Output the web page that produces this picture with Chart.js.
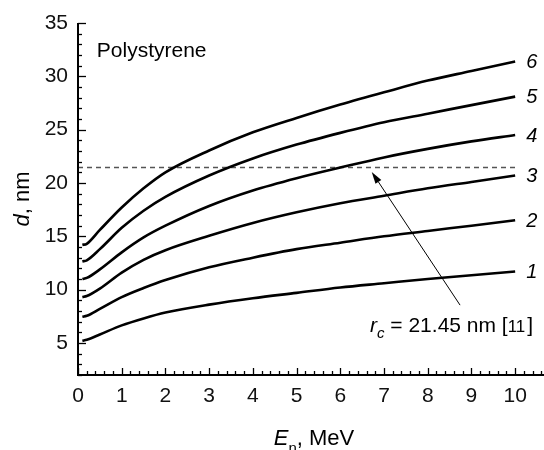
<!DOCTYPE html>
<html>
<head>
<meta charset="utf-8">
<script src="https://cdn.jsdelivr.net/npm/chart.js@4/dist/chart.umd.min.js"></script>
<style>
  html, body { margin: 0; padding: 0; background: #fff; }
  #wrap { width: 544px; height: 450px; }
</style>
</head>
<body>
<div id="wrap"><canvas id="chart"></canvas></div>
<script>
// d(E_n) curves for polystyrene
const energy = [0.1, 0.2, 0.5, 1, 1.5, 2, 3, 4, 5, 6, 7, 8, 9, 10];
const curve1 = [5.2, 5.3, 5.8, 6.65, 7.3, 7.85, 8.6, 9.2, 9.7, 10.2, 10.6, 11.0, 11.35, 11.7];
const curve2 = [7.46, 7.55, 8.2, 9.3, 10.15, 10.9, 12.1, 13.0, 13.8, 14.4, 15.0, 15.5, 16.0, 16.5];
const curve3 = [9.3, 9.4, 10.1, 11.6, 12.8, 13.7, 15.05, 16.25, 17.25, 18.1, 18.8, 19.5, 20.1, 20.7];
const curve4 = [11.0, 11.1, 11.9, 13.5, 14.9, 16.0, 17.85, 19.3, 20.45, 21.45, 22.4, 23.2, 23.9, 24.5];
const curve5 = [12.65, 12.75, 13.8, 15.8, 17.4, 18.7, 20.7, 22.3, 23.6, 24.7, 25.7, 26.5, 27.3, 28.1];
const curve6 = [14.2, 14.3, 15.6, 17.7, 19.5, 21.0, 23.05, 24.75, 26.1, 27.35, 28.5, 29.6, 30.5, 31.4];
const curves = [curve1, curve2, curve3, curve4, curve5, curve6];
const curveNames = ['1', '2', '3', '4', '5', '6'];

// critical radius line
const rcLevel = 21.45;
const rcSpan = [0, 10];
const arrowFrom = { x: 8.74, y: 8.55 };
const arrowTo = { x: 6.72, y: 21.04 };

const xTicks = [0, 1, 2, 3, 4, 5, 6, 7, 8, 9, 10];
const yTicks = [5, 10, 15, 20, 25, 30, 35];

const FONT = '"Liberation Sans", Arial, sans-serif';

const datasets = curves.map((c, k) => ({
  label: curveNames[k],
  data: energy.map((x, i) => ({ x: x, y: c[i] })),
  borderColor: '#000',
  borderWidth: 2.6,
  pointRadius: 0,
  cubicInterpolationMode: 'monotone',
  fill: false
}));

datasets.push({
  label: 'rc',
  data: rcSpan.map(x => ({ x: x, y: rcLevel })),
  borderColor: '#555',
  borderWidth: 1.4,
  borderDash: [5, 4],
  pointRadius: 0,
  fill: false
});

// axes, inward ticks, titles and annotations
const decor = {
  id: 'decor',
  afterDraw(chart) {
    const ctx = chart.ctx;
    const xs = chart.scales.x, ys = chart.scales.y;
    const area = chart.chartArea;
    ctx.save();
    ctx.strokeStyle = '#000';
    ctx.fillStyle = '#000';

    // axis lines
    ctx.lineWidth = 2;
    ctx.beginPath();
    ctx.moveTo(area.left, area.top);
    ctx.lineTo(area.left, area.bottom);
    ctx.lineTo(area.right, area.bottom);
    ctx.stroke();

    // y ticks (every 1, major every 5)
    ctx.lineWidth = 1.3;
    for (let v = 2; v <= 35; v++) {
      const py = Math.round(ys.getPixelForValue(v)) + 0.5;
      const len = v % 5 === 0 ? 8 : 4;
      ctx.beginPath();
      ctx.moveTo(area.left, py);
      ctx.lineTo(area.left + len, py);
      ctx.stroke();
    }
    // x ticks (every 0.2, major every 1)
    for (let k = 0; k <= 53; k++) {
      const v = k * 0.2;
      const px = Math.round(xs.getPixelForValue(v)) + 0.5;
      const len = k % 5 === 0 ? 7 : 4;
      ctx.beginPath();
      ctx.moveTo(px, area.bottom);
      ctx.lineTo(px, area.bottom - len);
      ctx.stroke();
    }

    // y title: d, nm
    ctx.save();
    ctx.translate(23, ys.getPixelForValue(18.5));
    ctx.rotate(-Math.PI / 2);
    ctx.textBaseline = 'middle';
    ctx.font = 'italic 22px ' + FONT;
    const wd = ctx.measureText('d').width;
    ctx.font = '22px ' + FONT;
    const wr = ctx.measureText(', nm').width;
    let sx = -(wd + wr) / 2;
    ctx.font = 'italic 22px ' + FONT;
    ctx.fillText('d', sx, 0);
    ctx.font = '22px ' + FONT;
    ctx.fillText(', nm', sx + wd, 0);
    ctx.restore();

    // x title: E_n, MeV
    ctx.textBaseline = 'alphabetic';
    ctx.font = 'italic 22px ' + FONT;
    const we = ctx.measureText('E').width;
    ctx.font = '15px ' + FONT;
    const wn = ctx.measureText('n').width;
    ctx.font = '22px ' + FONT;
    const wm = ctx.measureText(', MeV').width;
    let tx = (area.left + area.right) / 2 + 3 - (we + wn + wm) / 2;
    const ty = 445;
    ctx.font = 'italic 22px ' + FONT;
    ctx.fillText('E', tx, ty);
    ctx.font = '15px ' + FONT;
    ctx.fillText('n', tx + we, ty + 8);
    ctx.font = '22px ' + FONT;
    ctx.fillText(', MeV', tx + we + wn, ty);

    // Polystyrene
    ctx.font = '21px ' + FONT;
    ctx.fillText('Polystyrene', xs.getPixelForValue(0.43), ys.getPixelForValue(31.8));

    // curve numbers
    ctx.font = 'italic 20px ' + FONT;
    ctx.textBaseline = 'middle';
    curves.forEach((c, k) => {
      ctx.fillText(curveNames[k], xs.getPixelForValue(10) + 11, ys.getPixelForValue(c[c.length - 1]) + 1);
    });

    // arrow
    const ax0 = xs.getPixelForValue(arrowFrom.x), ay0 = ys.getPixelForValue(arrowFrom.y);
    const ax1 = xs.getPixelForValue(arrowTo.x), ay1 = ys.getPixelForValue(arrowTo.y);
    const ang = Math.atan2(ay1 - ay0, ax1 - ax0);
    const hl = 12, hw = 3.5;
    ctx.lineWidth = 1;
    ctx.beginPath();
    ctx.moveTo(ax0, ay0);
    ctx.lineTo(ax1 - Math.cos(ang) * hl, ay1 - Math.sin(ang) * hl);
    ctx.stroke();
    ctx.beginPath();
    ctx.moveTo(ax1, ay1);
    ctx.lineTo(ax1 - Math.cos(ang) * hl - Math.sin(ang) * hw, ay1 - Math.sin(ang) * hl + Math.cos(ang) * hw);
    ctx.lineTo(ax1 - Math.cos(ang) * hl + Math.sin(ang) * hw, ay1 - Math.sin(ang) * hl - Math.cos(ang) * hw);
    ctx.closePath();
    ctx.fill();

    // r_c = 21.45 nm [11]
    ctx.textBaseline = 'alphabetic';
    let rx = xs.getPixelForValue(6.68);
    const ry = ys.getPixelForValue(6.03);
    ctx.font = 'italic 21px ' + FONT;
    ctx.fillText('r', rx, ry);
    rx += ctx.measureText('r').width;
    ctx.font = 'italic 15px ' + FONT;
    ctx.fillText('c', rx, ry + 6);
    rx += ctx.measureText('c').width;
    ctx.font = '21px ' + FONT;
    ctx.fillText(' = ' + rcLevel + ' nm [', rx, ry);
    rx += ctx.measureText(' = ' + rcLevel + ' nm [').width;
    ctx.font = '17px ' + FONT;
    ctx.fillText('11', rx, ry);
    rx += ctx.measureText('11').width + 2;
    ctx.font = '21px ' + FONT;
    ctx.fillText(']', rx, ry);

    ctx.restore();
  }
};

new Chart(document.getElementById('chart'), {
  type: 'line',
  data: { datasets: datasets },
  options: {
    responsive: true,
    maintainAspectRatio: false,
    animation: false,
    layout: { padding: { top: 23, left: 0, right: 0, bottom: 0 } },
    plugins: {
      legend: { display: false },
      tooltip: { enabled: false }
    },
    scales: {
      x: {
        type: 'linear',
        min: 0,
        max: 10.66,
        afterBuildTicks: s => { s.ticks = xTicks.map(v => ({ value: v })); },
        afterFit: s => { s.height = 75; },
        grid: { display: false, drawTicks: false },
        border: { display: false },
        ticks: { color: '#111', font: { family: FONT, size: 21 }, padding: 9, maxRotation: 0, autoSkip: false }
      },
      y: {
        type: 'linear',
        min: 2,
        max: 35,
        afterBuildTicks: s => { s.ticks = yTicks.map(v => ({ value: v })); },
        afterFit: s => { s.width = 78; },
        grid: { display: false, drawTicks: false },
        border: { display: false },
        ticks: { color: '#111', font: { family: FONT, size: 21 }, padding: 10 }
      }
    }
  },
  plugins: [decor]
});
</script>
</body>
</html>
